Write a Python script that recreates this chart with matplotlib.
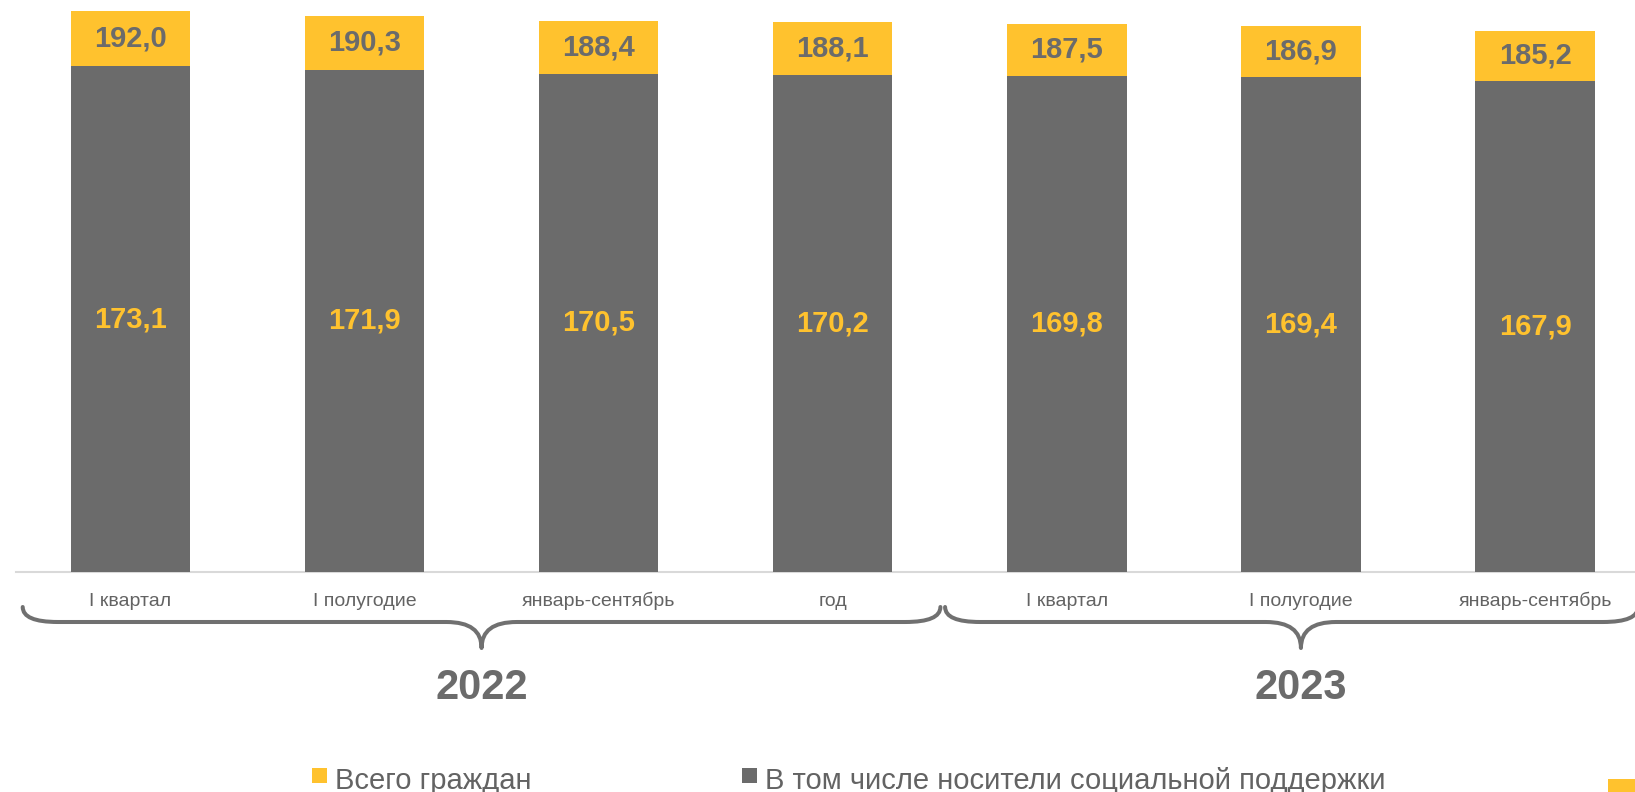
import matplotlib
matplotlib.use("Agg")
import matplotlib.pyplot as plt
from matplotlib.path import Path
from matplotlib.patches import PathPatch, Rectangle
from matplotlib.transforms import Affine2D, blended_transform_factory

categories = ["I квартал", "I полугодие", "январь-сентябрь", "год",
              "I квартал", "I полугодие", "январь-сентябрь"]
years = ["2022", "2023"]
total = [192.0, 190.3, 188.4, 188.1, 187.5, 186.9, 185.2]
support = [173.1, 171.9, 170.5, 170.2, 169.8, 169.4, 167.9]
series_names = ["Всего граждан", "В том числе носители социальной поддержки"]

YEL = "#FFC22E"
GRY = "#6B6B6B"
TXT = "#636363"

W, H = 1635, 792
fig = plt.figure(figsize=(W / 100, H / 100), dpi=100)
ax = fig.add_axes([0, (H - 572) / H, 1, 572 / H])
ax.set_xlim(-0.557, 6.427)
ax.set_ylim(0, 195.7)
ax.axis("off")

x = list(range(len(categories)))
rest = [t - s for t, s in zip(total, support)]
ax.bar(x, support, width=0.51, color=GRY, zorder=2)
ax.bar(x, rest, bottom=support, width=0.51, color=YEL, zorder=2)

for i in x:
    ax.text(i, support[i] / 2, f"{support[i]:.1f}".replace(".", ","),
            ha="center", va="center", color=YEL, fontsize=21,
            fontweight="bold", family="Liberation Sans")
    ax.text(i, support[i] + rest[i] / 2, f"{total[i]:.1f}".replace(".", ","),
            ha="center", va="center", color=GRY, fontsize=21,
            fontweight="bold", family="Liberation Sans")

# pixel-y transform (y measured from top of figure)
pix = Affine2D().scale(1, -1).translate(0, H)
bt = blended_transform_factory(ax.transData, pix)

# axis baseline
ax.plot([-0.49, 6.5], [572, 572], transform=bt, color="#D9D9D9", lw=1.5,
        clip_on=False, zorder=1)

for i, c in enumerate(categories):
    ax.text(i, 601, c, transform=bt, ha="center", va="center", color=TXT,
            fontsize=14, family="Liberation Sans", clip_on=False)


def brace(x0, x1, xt, y_end=607, y_h=622, y_tip=648, rx=0.15):
    verts = [(x0, y_end), (x0, y_h), (x0 + rx, y_h),
             (xt - rx, y_h), (xt, y_h), (xt, y_tip),
             (xt, y_h), (xt + rx, y_h),
             (x1 - rx, y_h), (x1, y_h), (x1, y_end)]
    codes = [Path.MOVETO, Path.CURVE3, Path.CURVE3,
             Path.LINETO, Path.CURVE3, Path.CURVE3,
             Path.CURVE3, Path.CURVE3,
             Path.LINETO, Path.CURVE3, Path.CURVE3]
    p = PathPatch(Path(verts, codes), transform=bt, fill=False,
                  edgecolor="#707070", lw=2.9, capstyle="round",
                  joinstyle="round", clip_on=False)
    ax.add_patch(p)


brace(-0.46, 3.46, 1.5)
brace(3.48, 6.44, 5.0)

for xc, yr in zip([1.5, 5.0], years):
    ax.text(xc, 688, yr, transform=bt, ha="center", va="center",
            color=GRY, fontsize=30, fontweight="bold",
            family="Liberation Sans", clip_on=False)

# legend
figpix = Affine2D().scale(1, -1).translate(0, H)
leg = [(312, YEL, series_names[0]), (742, GRY, series_names[1])]
for x0, col, name in leg:
    fig.patches.append(Rectangle((x0, 768), 15, 15, transform=figpix,
                                 facecolor=col, edgecolor="none"))
    fig.text(x0 + 23, 789, name, transform=figpix, ha="left", va="baseline",
             color=TXT, fontsize=21, family="Liberation Sans")

fig.patches.append(Rectangle((1608, 779), 27, 13, transform=figpix,
                             facecolor=YEL, edgecolor="none"))

fig.savefig("out.png", dpi=100)
